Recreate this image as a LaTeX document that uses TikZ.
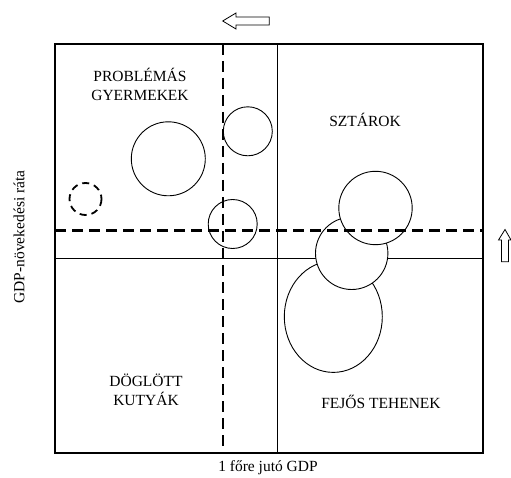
\documentclass[tikz,border=0pt]{standalone}
\usepackage{fontspec}
\setmainfont{Liberation Serif}
\usetikzlibrary{calc}

\begin{document}
\begin{tikzpicture}[x=1pt,y=-1pt,
    quad/.style={font=\fontsize{15.5}{19}\selectfont, align=center, inner sep=0pt},
    axislabel/.style={font=\fontsize{15.5}{19}\selectfont, inner sep=0pt},
    bubble/.style={draw, fill=white, line width=0.9pt},
    cut/.style={line width=2.8pt, dash pattern=on 11pt off 6pt}]
    \useasboundingbox (0,0) rectangle (511,478);
    % frame and quadrants
    \draw[line width=2.2pt] (55,44) rectangle (483,453);
    \draw[line width=0.9pt] (277.5,44) -- (277.5,453);
    \draw[line width=0.9pt] (55,258) -- (483,258);
    % bubbles
    \draw[bubble] (333.3,316.7) ellipse (49 and 55.7);
    \foreach \x/\y/\r in {168.3/158.8/37, 247.8/131.3/24.5, 232.7/224/24.5, 351.7/253.3/36.2, 375.5/208/36.7}
        \draw[bubble] (\x,\y) circle (\r);
    \draw[line width=1.8pt, dash pattern=on 7pt off 5pt] (85.5,199) circle (16);
    % shifted borders
    \draw[cut] (223,44) -- (223,453);
    \draw[cut] (55,230.5) -- (483,230.5);
    % shift arrows
    \draw[line width=0.8pt] (222.7,21) -- (236,13) -- (236,17) -- (269.3,17) -- (269.3,25) -- (236,25) -- (236,29) -- cycle;
    \draw[line width=0.8pt] (505,229.5) -- (511,240) -- (508.5,240) -- (508.5,261.7) -- (501.5,261.7) -- (501.5,240) -- (498.5,240) -- cycle;
    % labels
    \node[quad] (problem) at (140,84) {PROBLÉMÁS\\GYERMEKEK};
    \node[quad] (stars) at (365,120) {SZTÁROK};
    \node[quad] (dogs) at (146,390) {DÖGLÖTT\\KUTYÁK};
    \node[quad] (cows) at (381,401.5) {FEJŐS TEHENEK};
    \node[axislabel] (xlabel) at (268,468) {1 főre jutó GDP};
    \node[axislabel, rotate=90] (ylabel) at (19,237) {GDP-növekedési ráta};
\end{tikzpicture}
\end{document}
